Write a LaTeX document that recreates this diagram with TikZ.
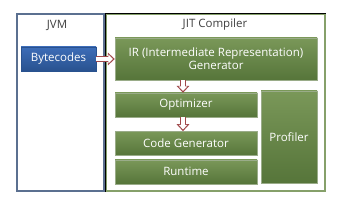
\documentclass[tikz,border=0pt]{standalone}
\usepackage{fontspec}
\setmainfont{Open Sans}
\usepackage{tikz}
\usetikzlibrary{arrows.meta,positioning}

\definecolor{boxgreen}{HTML}{6B8C46}
\definecolor{boxgreendark}{HTML}{56753A}
\definecolor{boxblue}{HTML}{3D6DB8}
\definecolor{boxbluedark}{HTML}{29528F}
\definecolor{arrowred}{HTML}{A0484A}
\definecolor{frameblue}{HTML}{5B7090}
\definecolor{framegreen}{HTML}{86A06A}

\begin{document}
\begin{tikzpicture}[x=1pt,y=-1pt,node distance=4pt,font=\fontsize{11.5}{13}\selectfont]
  \tikzstyle{frame}=[draw,line width=1.2pt,fill=white,inner sep=0pt]
  \tikzstyle{title}=[text=black!75]
  \tikzstyle{green}=[draw=boxgreendark!60!white,top color=boxgreen!90!white,bottom color=boxgreendark,text=white,align=center,inner sep=0pt,minimum width=142pt,minimum height=24pt]
  \tikzstyle{blue}=[draw=boxbluedark,top color=boxblue,bottom color=boxbluedark,text=white,inner sep=0pt,minimum width=75pt,minimum height=24pt]
  \tikzstyle{hollow}=[line width=6pt,draw=arrowred,-{Triangle[length=7pt,width=12.5pt]},
    postaction={draw=white,line width=3.6pt,shorten >=1.8pt,-{Triangle[length=4.6pt,width=8.4pt]}}]
  \useasboundingbox (0,0) rectangle (343,208);
  % the two frames
  \node[frame,draw=frameblue,minimum width=87pt,minimum height=177pt] (jvm) at (60.5,102.5) {};
  \node[frame,draw=framegreen,minimum width=219pt,minimum height=177pt] (jit) at (215.5,102.5) {};
  \draw[line width=1.4pt] (jit.south west) |- (jit.north east);
  \node[title] (jvmname) at (57,25) {JVM};
  \node[title] (jitname) at (215,25) {JIT Compiler};
  % boxes
  \node[blue] (bc) at (58.5,59) {Bytecodes};
  \node[green,minimum width=202pt,minimum height=42pt] (ir) at (216,59) {IR (Intermediate Representation)\\Generator};
  \node[green] (opt) at (186,105) {Optimizer};
  \node[green,below=14pt of opt] (cg) {Code Generator};
  \node[green,below=4pt of cg] (rt) {Runtime};
  \node[green,minimum width=56pt,minimum height=92pt] (prof) at (289,137) {Profiler};
  % flow
  \draw[hollow] (bc) -- (ir);
  \draw[hollow] (ir.south -| 183,0) -- (opt.north -| 183,0);
  \draw[hollow] (opt.south -| 183,0) -- (cg.north -| 183,0);
\end{tikzpicture}
\end{document}
